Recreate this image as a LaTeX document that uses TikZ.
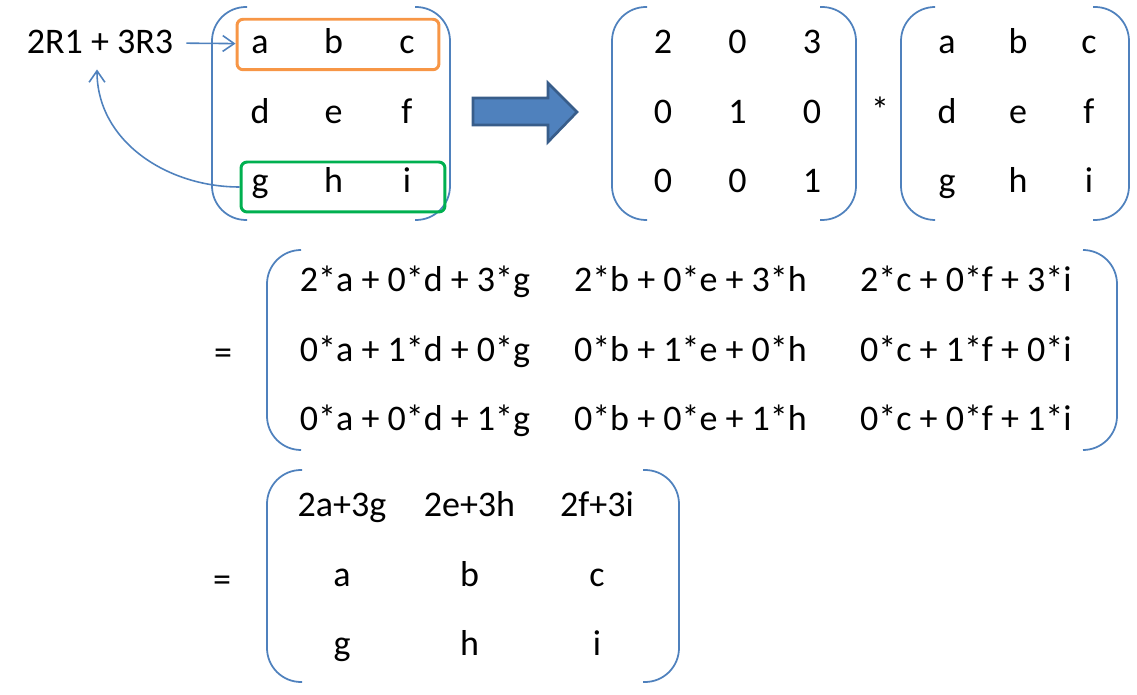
\documentclass[tikz,border=0pt]{standalone}
\usepackage{fontspec}
\setmainfont{Carlito}
\usetikzlibrary{arrows.meta,matrix}

\definecolor{lineblue}{HTML}{4F81BD}
\definecolor{darkblue}{HTML}{385D8A}
\definecolor{roworange}{HTML}{F79646}
\definecolor{rowgreen}{HTML}{00B050}

\begin{document}
\begin{tikzpicture}[
  x=0.02cm, y=-0.02cm,
  font=\fontsize{20.5}{24}\selectfont,
  mat/.style={matrix of nodes, nodes={anchor=base, inner sep=2pt},
              row sep={1.39cm,between origins}},
  brk/.style={draw=lineblue, line width=1pt, rounded corners=0.68cm},
  rowbox/.style={draw=#1, line width=1.7pt, rounded corners=3.5pt, minimum height=1.01cm},
  conn/.style={draw=lineblue, line width=0.9pt, -{Straight Barb[length=6.5pt,width=9pt]}},
  bigarrow/.style={draw=darkblue, fill=lineblue, line width=1.5pt}
]
\useasboundingbox (0,0) rectangle (1137,695);

% row operation on the left
\node[anchor=base] (expr) at (100,54) {2R1 + 3R3};
\matrix (L) [mat, column sep={1.47cm,between origins}, matrix anchor=L-1-1.base] at (260,54) {
  a & b & c \\
  d & e & f \\
  g & h & i \\
};
\draw[brk] (247,7) -- (212,7) -- (212,220) -- (247,220);
\draw[brk] (415,7) -- (450,7) -- (450,220) -- (415,220);
\node[rowbox=roworange, minimum width=4.04cm] (rowone) at (338,44.5) {};
\node[rowbox=rowgreen, minimum width=4.08cm, minimum height=1.0cm] (rowthree) at (343,187) {};
\draw[conn, shorten <=4pt] (expr) -- (rowone);
\draw[conn] (rowthree.west) to[out=180,in=-90] ([xshift=-0.06cm,yshift=-0.18cm]expr.south);

\draw[bigarrow] (473,98) -- (548,98) -- (548,83) -- (577,112) -- (548,142) -- (548,125) -- (473,125) -- cycle;

% elementary matrix times the matrix
\matrix (M) [mat, column sep={1.49cm,between origins}, matrix anchor=M-1-1.base] at (663,54) {
  2 & 0 & 3 \\
  0 & 1 & 0 \\
  0 & 0 & 1 \\
};
\draw[brk] (647,7) -- (612,7) -- (612,220) -- (647,220);
\draw[brk] (820,7) -- (856,7) -- (856,220) -- (820,220);
\node[anchor=base] (times) at (880,123) {*};
\matrix (R) [mat, column sep={1.42cm,between origins}, matrix anchor=R-1-1.base] at (947,54) {
  a & b & c \\
  d & e & f \\
  g & h & i \\
};
\draw[brk] (935,7) -- (901,7) -- (901,220) -- (935,220);
\draw[brk] (1093,7) -- (1129,7) -- (1129,220) -- (1093,220);

% the product written out
\node (eqone) at (223,357) {=};
\matrix (P) [mat, column sep={5.51cm,between origins}, matrix anchor=P-1-1.base] at (415,292) {
  2*a + 0*d + 3*g & 2*b + 0*e + 3*h & 2*c + 0*f + 3*i \\
  0*a + 1*d + 0*g & 0*b + 1*e + 0*h & 0*c + 1*f + 0*i \\
  0*a + 0*d + 1*g & 0*b + 0*e + 1*h & 0*c + 0*f + 1*i \\
};
\draw[brk] (300,250) -- (267,250) -- (267,450) -- (300,450);
\draw[brk] (1083,250) -- (1117,250) -- (1117,450) -- (1083,450);

% result
\node (eqtwo) at (222,584) {=};
\matrix (Q) [mat, column sep={2.55cm,between origins}, matrix anchor=Q-1-1.base] at (342,517) {
  2a+3g & 2e+3h & 2f+3i \\
  a & b & c \\
  g & h & i \\
};
\draw[brk] (302,470) -- (267,470) -- (267,682) -- (302,682);
\draw[brk] (643,470) -- (679,470) -- (679,682) -- (643,682);
\end{tikzpicture}
\end{document}
